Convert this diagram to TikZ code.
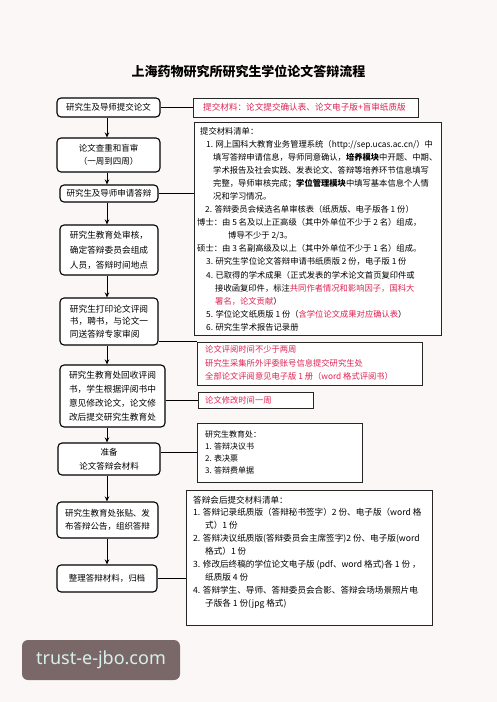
\documentclass[tikz,border=0pt]{standalone}
\usepackage{fontspec}
\newfontfamily\cjk{Noto Sans CJK SC}
\newfontfamily\wmfont{Noto Sans}
\usetikzlibrary{arrows.meta}
\definecolor{bg}{RGB}{252,247,247}
\definecolor{redtxt}{RGB}{222,34,82}
\definecolor{wmbg}{RGB}{122,104,104}
\definecolor{wmtxt}{RGB}{214,240,236}
\begin{document}
\begin{tikzpicture}[x=1pt,y=-1pt,
 lbox/.style={draw=black, line width=1.1pt, rounded corners=4pt, fill=white, inner sep=0pt, align=center, font=\cjk\fontsize{8.5}{14}\selectfont},
 rbox/.style={draw=black!85, line width=0.9pt, fill=white, inner sep=0pt},
 rtext/.style={anchor=north west, inner sep=0pt, align=left, font=\cjk\fontsize{8.3}{13.07}\selectfont},
 conn/.style={line width=0.9pt, draw=black},
 arr/.style={line width=1pt, -{Stealth[length=5pt,width=4.5pt]}},
]
\path[use as bounding box, fill=bg] (0,0) rectangle (497,702);

\node[font=\cjk\bfseries\fontsize{13}{13}\selectfont, inner sep=0pt] (title) at (248.5,71) {上海药物研究所研究生学位论文答辩流程};

% left column
\node[lbox, minimum width=103pt, minimum height=19pt] (b1) at (108.5,107.5) {研究生及导师提交论文};
\node[lbox, minimum width=103pt, minimum height=34pt, font=\cjk\fontsize{8.5}{13}\selectfont] (b2) at (108.5,155) {论文查重和盲审\\（一周到四周）};
\node[lbox, minimum width=98pt, minimum height=17pt] (b3) at (109,193.5) {研究生及导师申请答辩};
\node[lbox, minimum width=98pt, minimum height=50pt, align=left, font=\cjk\fontsize{8.7}{15}\selectfont] (b4) at (109,250) {研究生教育处审核，\\确定答辩委员会组成\\人员，答辩时间地点};
\node[lbox, minimum width=98pt, minimum height=47pt, align=left, font=\cjk\fontsize{8.7}{12.5}\selectfont] (b5) at (109,321.5) {研究生打印论文评阅\\书，聘书，与论文一\\同送答辩专家审阅};
\node[lbox, minimum width=105pt, minimum height=62pt, font=\cjk\fontsize{8.7}{14}\selectfont] (b6) at (112.5,396) {研究生教育处回收评阅\\书，学生根据评阅书中\\意见修改论文，论文修\\改后提交研究生教育处};
\node[lbox, minimum width=102pt, minimum height=32pt] (b7) at (109,459) {准备\\论文答辩会材料};
\node[lbox, minimum width=101pt, minimum height=36pt, font=\cjk\fontsize{8.5}{12.5}\selectfont] (b8) at (107.5,520) {研究生教育处张贴、发\\布答辩公告，组织答辩};
\node[lbox, minimum width=100pt, minimum height=27pt] (b9) at (107,578.5) {整理答辩材料，归档};

% right column boxes
\node[rbox, minimum width=225pt, minimum height=19pt] (bA) at (305.5,107.5) {};
\node[rbox, minimum width=247pt, minimum height=213pt] (bB) at (317.5,228.5) {};
\node[rbox, minimum width=225pt, minimum height=43pt] (bC) at (309.5,363.5) {};
\node[rbox, minimum width=115pt, minimum height=16pt] (bD) at (255.5,400) {};
\node[rbox, minimum width=165pt, minimum height=59pt] (bE) at (279.5,452.5) {};
\node[rbox, minimum width=246pt, minimum height=135pt] (bF) at (309,557.5) {};

% right column texts
\node[rtext, anchor=west, text=redtxt, font=\cjk\fontsize{8.6}{13}\selectfont] (tA) at (203,107.5) {提交材料：论文提交确认表、论文电子版+盲审纸质版};
\node[rtext] (tB) at (197,127) {%
\hspace*{3pt}提交材料清单：\\
\hspace*{9pt}1. 网上国科大教育业务管理系统（http://sep.ucas.ac.cn/）中\\
\hspace*{16pt}填写答辩申请信息，导师同意确认，\textbf{培养模块}中开题、中期、\\
\hspace*{16pt}学术报告及社会实践、发表论文、答辩等培养环节信息填写\\
\hspace*{16pt}完整，导师审核完成；\textbf{学位管理模块}中填写基本信息个人情\\
\hspace*{16pt}况和学习情况。\\
\hspace*{8pt}2. 答辩委员会候选名单审核表（纸质版、电子版各 1 份）\\
博士：由 5 名及以上正高级（其中外单位不少于 2 名）组成，\\
\hspace*{31pt}博导不少于 2/3。\\
硕士：由 3 名副高级及以上（其中外单位不少于 1 名）组成。\\
\hspace*{9pt}3. 研究生学位论文答辩申请书纸质版 2 份，电子版 1 份\\
\hspace*{9pt}4. 已取得的学术成果（正式发表的学术论文首页复印件或\\
\hspace*{18pt}接收函复印件，标注\textcolor{redtxt}{共同作者情况和影响因子，国科大}\\
\hspace*{18pt}\textcolor{redtxt}{署名，论文贡献}）\\
\hspace*{9pt}5. 学位论文纸质版 1 份（\textcolor{redtxt}{含学位论文成果对应确认表}）\\
\hspace*{9pt}6. 研究生学术报告记录册};
\node[rtext, text=redtxt, font=\cjk\fontsize{8.3}{13.5}\selectfont] (tC) at (205,345.5) {论文评阅时间不少于两周\\研究生采集所外评委账号信息提交研究生处\\全部论文评阅意见电子版 1 册（word 格式评阅书）};
\node[rtext, anchor=west, text=redtxt, font=\cjk\fontsize{8.3}{13}\selectfont] (tD) at (205,400) {论文修改时间一周};
\node[rtext, font=\cjk\fontsize{8}{11.7}\selectfont] (tE) at (205,431) {研究生教育处：\\1. 答辩决议书\\2. 表决票\\3. 答辩费单据};
\node[rtext, font=\cjk\fontsize{8.6}{12.9}\selectfont] (tF) at (193,495.5) {%
答辩会后提交材料清单：\\
1. 答辩记录纸质版（答辩秘书签字）2 份、电子版（word 格\\
\hspace*{12pt}式）1 份\\
2. 答辩决议纸质版(答辩委员会主席签字)2 份、电子版(word\\
\hspace*{12pt}格式）1 份\\
3. 修改后终稿的学位论文电子版 (pdf、word 格式)各 1 份 ，\\
\hspace*{12pt}纸质版 4 份\\
4. 答辩学生、导师、答辩委员会合影、答辩会场场景照片电\\
\hspace*{12pt}子版各 1 份(jpg 格式)};

% connectors
\draw[conn] (b1.east) -- (bA.west);
\draw[conn] (b3.east) -- (b3.east -| bB.west);
\coordinate (c5) at (0,341);
\draw[conn] (b5.east |- c5) -- (bC.west |- c5);
\draw[conn] (b6.east |- bD.west) -- (bD.west);
\draw[conn] (b7.east |- bE.west) -- (bE.west);
\draw[conn] (b9.east) -- (b9.east -| bF.west);

% arrows
\coordinate (sp) at (107,0);
\draw[arr] (b1.south -| sp) -- (b2.north -| sp);
\draw[arr] (b2.south -| sp) -- (b3.north -| sp);
\draw[arr] (b3.south -| sp) -- (b4.north -| sp);
\draw[arr] (b4.south -| sp) -- (b5.north -| sp);
\draw[arr] (b5.south -| sp) -- (b6.north -| sp);
\draw[arr] (b6.south -| sp) -- (b7.north -| sp);
\draw[arr] (b7.south -| sp) -- (b8.north -| sp);
\draw[arr] (b8.south -| sp) -- (b9.north -| sp);

% watermark
\node[fill=wmbg, rounded corners=6pt, text=wmtxt, font=\wmfont\fontsize{18}{18}\selectfont, minimum width=158pt, minimum height=40pt, inner sep=0pt] (wm) at (101,660) {trust-e-jbo.com};
\end{tikzpicture}
\end{document}
